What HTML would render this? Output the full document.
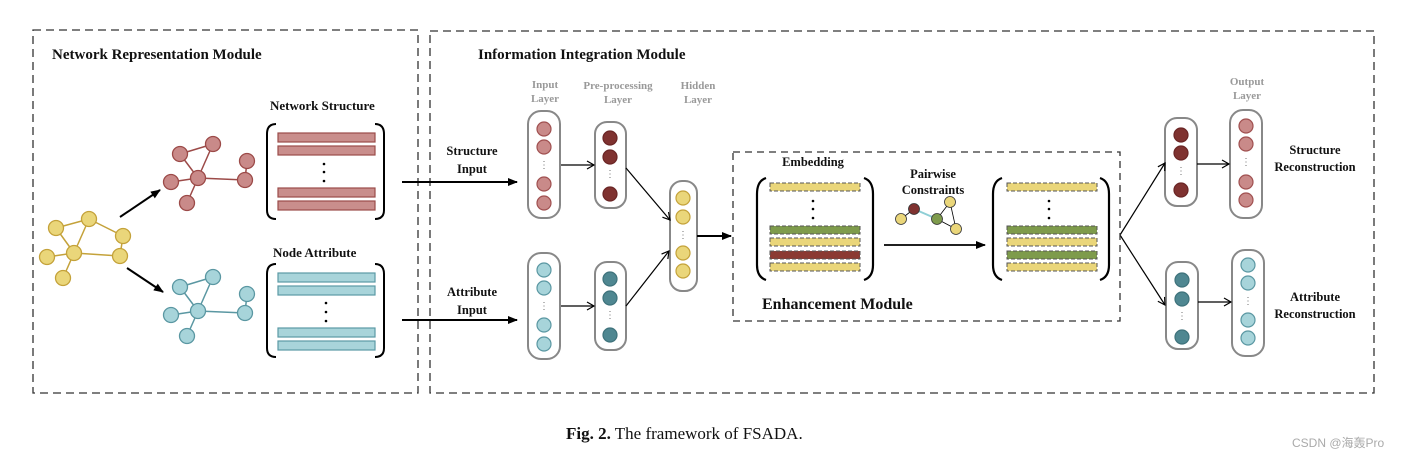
<!DOCTYPE html>
<html><head><meta charset="utf-8"><style>
html,body{margin:0;padding:0;background:#fff;}
svg{display:block;}
.t{font-family:"Liberation Serif",serif;font-weight:bold;fill:#111;}
.g{font-family:"Liberation Serif",serif;font-weight:bold;fill:#999;font-size:11px;}
</style></head><body>
<svg width="1414" height="458" viewBox="0 0 1414 458" xmlns="http://www.w3.org/2000/svg">
<defs>
<marker id="af" markerWidth="10" markerHeight="8" refX="9" refY="4" orient="auto" markerUnits="userSpaceOnUse"><path d="M0,0 L10,4 L0,8 Z" fill="#000"/></marker>
<marker id="ao" markerWidth="10" markerHeight="10" refX="8" refY="5" orient="auto" markerUnits="userSpaceOnUse"><path d="M1,1 L8,5 L1,9" fill="none" stroke="#000" stroke-width="1.2"/></marker>
</defs>
<rect x="33" y="30" width="385" height="363" fill="none" stroke="#333" stroke-width="1.3" stroke-dasharray="8,5"/>
<rect x="430" y="31" width="944" height="362" fill="none" stroke="#333" stroke-width="1.3" stroke-dasharray="8,5"/>
<text class="t" x="52" y="59" font-size="15">Network Representation Module</text>
<text class="t" x="478" y="59" font-size="15">Information Integration Module</text>

<g stroke="#c4a23a" stroke-width="1.5">
<line x1="56" y1="228" x2="89" y2="219"/><line x1="56" y1="228" x2="74" y2="253"/><line x1="89" y1="219" x2="74" y2="253"/><line x1="89" y1="219" x2="123" y2="236"/><line x1="123" y1="236" x2="120" y2="256"/><line x1="74" y1="253" x2="120" y2="256"/><line x1="47" y1="257" x2="74" y2="253"/><line x1="74" y1="253" x2="63" y2="278"/>
</g>
<g fill="#ead67a" stroke="#c4a23a" stroke-width="1.3">
<circle cx="56" cy="228" r="7.5"/><circle cx="89" cy="219" r="7.5"/><circle cx="123" cy="236" r="7.5"/><circle cx="47" cy="257" r="7.5"/><circle cx="74" cy="253" r="7.5"/><circle cx="120" cy="256" r="7.5"/><circle cx="63" cy="278" r="7.5"/>
</g>
<line x1="120" y1="217" x2="160" y2="190" stroke="#000" stroke-width="2" marker-end="url(#af)"/>
<line x1="127" y1="268" x2="163" y2="292" stroke="#000" stroke-width="2" marker-end="url(#af)"/>

<g stroke="#9c4a48" stroke-width="1.5">
<line x1="180" y1="154" x2="213" y2="144"/><line x1="180" y1="154" x2="198" y2="178"/><line x1="213" y1="144" x2="198" y2="178"/><line x1="247" y1="161" x2="245" y2="180"/><line x1="171" y1="182" x2="198" y2="178"/><line x1="198" y1="178" x2="245" y2="180"/><line x1="198" y1="178" x2="187" y2="203"/>
</g>
<g fill="#c98a89" stroke="#9c4a48" stroke-width="1.3">
<circle cx="180" cy="154" r="7.5"/><circle cx="213" cy="144" r="7.5"/><circle cx="247" cy="161" r="7.5"/><circle cx="171" cy="182" r="7.5"/><circle cx="198" cy="178" r="7.5"/><circle cx="245" cy="180" r="7.5"/><circle cx="187" cy="203" r="7.5"/>
</g>
<g transform="translate(0,133)">
<g stroke="#5a97a2" stroke-width="1.5">
<line x1="180" y1="154" x2="213" y2="144"/><line x1="180" y1="154" x2="198" y2="178"/><line x1="213" y1="144" x2="198" y2="178"/><line x1="247" y1="161" x2="245" y2="180"/><line x1="171" y1="182" x2="198" y2="178"/><line x1="198" y1="178" x2="245" y2="180"/><line x1="198" y1="178" x2="187" y2="203"/>
</g>
<g fill="#a7d4da" stroke="#5a97a2" stroke-width="1.3">
<circle cx="180" cy="154" r="7.5"/><circle cx="213" cy="144" r="7.5"/><circle cx="247" cy="161" r="7.5"/><circle cx="171" cy="182" r="7.5"/><circle cx="198" cy="178" r="7.5"/><circle cx="245" cy="180" r="7.5"/><circle cx="187" cy="203" r="7.5"/>
</g></g>

<text class="t" x="270" y="110" font-size="13">Network  Structure</text>
<path d="M276,124 Q267,124 267,134 L267,210 Q267,219 276,219" fill="none" stroke="#000" stroke-width="2"/>
<path d="M375,124 Q384,124 384,134 L384,210 Q384,219 375,219" fill="none" stroke="#000" stroke-width="2"/>
<g fill="#c98e8c" stroke="#9b4c4a" stroke-width="1.2">
<rect x="278" y="133" width="97" height="9"/><rect x="278" y="146" width="97" height="9"/><rect x="278" y="188" width="97" height="9"/><rect x="278" y="201" width="97" height="9"/>
</g>
<g fill="#000"><circle cx="324" cy="164" r="1.3"/><circle cx="324" cy="172" r="1.3"/><circle cx="324" cy="181" r="1.3"/></g>

<text class="t" x="273" y="257" font-size="13">Node Attribute</text>
<path d="M276,264 Q267,264 267,274 L267,348 Q267,357 276,357" fill="none" stroke="#000" stroke-width="2"/>
<path d="M375,264 Q384,264 384,274 L384,348 Q384,357 375,357" fill="none" stroke="#000" stroke-width="2"/>
<g fill="#a8d4da" stroke="#5b9aa5" stroke-width="1.2">
<rect x="278" y="273" width="97" height="9"/><rect x="278" y="286" width="97" height="9"/><rect x="278" y="328" width="97" height="9"/><rect x="278" y="341" width="97" height="9"/>
</g>
<g fill="#000"><circle cx="326" cy="303" r="1.3"/><circle cx="326" cy="312" r="1.3"/><circle cx="326" cy="321" r="1.3"/></g>

<line x1="402" y1="182" x2="517" y2="182" stroke="#000" stroke-width="2" marker-end="url(#af)"/>
<line x1="402" y1="320" x2="517" y2="320" stroke="#000" stroke-width="2" marker-end="url(#af)"/>
<text class="t" x="472" y="155" font-size="12.5" text-anchor="middle">Structure</text>
<text class="t" x="472" y="173" font-size="12.5" text-anchor="middle">Input</text>
<text class="t" x="472" y="296" font-size="12.5" text-anchor="middle">Attribute</text>
<text class="t" x="472" y="314" font-size="12.5" text-anchor="middle">Input</text>

<text class="g" x="545" y="88" text-anchor="middle">Input</text>
<text class="g" x="545" y="102" text-anchor="middle">Layer</text>
<text class="g" x="618" y="89" text-anchor="middle">Pre-processing</text>
<text class="g" x="618" y="103" text-anchor="middle">Layer</text>
<text class="g" x="698" y="89" text-anchor="middle">Hidden</text>
<text class="g" x="698" y="103" text-anchor="middle">Layer</text>
<text class="g" x="1247" y="85" text-anchor="middle">Output</text>
<text class="g" x="1247" y="99" text-anchor="middle">Layer</text>

<g fill="#fff" stroke="#888" stroke-width="2">
<rect x="528" y="111" width="32" height="107" rx="13"/>
<rect x="595" y="122" width="31" height="86" rx="12"/>
<rect x="670" y="181" width="27" height="110" rx="12"/>
<rect x="528" y="253" width="32" height="106" rx="13"/>
<rect x="595" y="262" width="31" height="88" rx="12"/>
<rect x="1165" y="118" width="32" height="88" rx="12"/>
<rect x="1230" y="110" width="32" height="108" rx="13"/>
<rect x="1166" y="262" width="32" height="87" rx="12"/>
<rect x="1232" y="250" width="32" height="106" rx="13"/>
</g>
<g stroke-width="1.2">
<g fill="#c98a89" stroke="#a05050"><circle cx="544" cy="129" r="7"/><circle cx="544" cy="147" r="7"/><circle cx="544" cy="184" r="7"/><circle cx="544" cy="203" r="7"/>
<circle cx="1246" cy="126" r="7"/><circle cx="1246" cy="144" r="7"/><circle cx="1246" cy="182" r="7"/><circle cx="1246" cy="200" r="7"/></g>
<g fill="#7f3230" stroke="#6a2525"><circle cx="610" cy="138" r="7"/><circle cx="610" cy="157" r="7"/><circle cx="610" cy="194" r="7"/>
<circle cx="1181" cy="135" r="7"/><circle cx="1181" cy="153" r="7"/><circle cx="1181" cy="190" r="7"/></g>
<g fill="#ead67a" stroke="#c4a23a"><circle cx="683" cy="198" r="7"/><circle cx="683" cy="217" r="7"/><circle cx="683" cy="253" r="7"/><circle cx="683" cy="271" r="7"/></g>
<g fill="#a7d4da" stroke="#5a97a2"><circle cx="544" cy="270" r="7"/><circle cx="544" cy="288" r="7"/><circle cx="544" cy="325" r="7"/><circle cx="544" cy="344" r="7"/>
<circle cx="1248" cy="265" r="7"/><circle cx="1248" cy="283" r="7"/><circle cx="1248" cy="320" r="7"/><circle cx="1248" cy="338" r="7"/></g>
<g fill="#4f8791" stroke="#3e727b"><circle cx="610" cy="279" r="7"/><circle cx="610" cy="298" r="7"/><circle cx="610" cy="335" r="7"/>
<circle cx="1182" cy="280" r="7"/><circle cx="1182" cy="299" r="7"/><circle cx="1182" cy="337" r="7"/></g>
</g>
<g fill="#777" font-family="Liberation Serif" font-size="10" text-anchor="middle">
<text x="544" y="168">⋮</text><text x="610" y="177">⋮</text><text x="683" y="238">⋮</text><text x="544" y="309">⋮</text><text x="610" y="318">⋮</text>
<text x="1181" y="174">⋮</text><text x="1246" y="165">⋮</text><text x="1182" y="319">⋮</text><text x="1248" y="304">⋮</text>
</g>
<g stroke="#000" stroke-width="1.2" fill="none">
<line x1="561" y1="165" x2="594" y2="165" marker-end="url(#ao)"/>
<line x1="561" y1="306" x2="594" y2="306" marker-end="url(#ao)"/>
<line x1="626" y1="168" x2="670" y2="220" marker-end="url(#ao)"/>
<line x1="626" y1="306" x2="669" y2="251" marker-end="url(#ao)"/>
<line x1="1197" y1="164" x2="1229" y2="164" marker-end="url(#ao)"/>
<line x1="1198" y1="302" x2="1231" y2="302" marker-end="url(#ao)"/>
<line x1="1120" y1="235" x2="1165" y2="163" marker-end="url(#ao)"/>
<line x1="1120" y1="235" x2="1165" y2="305" marker-end="url(#ao)"/>
</g>
<line x1="697" y1="236" x2="731" y2="236" stroke="#000" stroke-width="2" marker-end="url(#af)"/>

<rect x="733" y="152" width="387" height="169" fill="none" stroke="#333" stroke-width="1.3" stroke-dasharray="7,5"/>
<text class="t" x="813" y="166" font-size="12.5" text-anchor="middle">Embedding</text>
<path d="M766,178 Q757,181 757,194 L757,265 Q757,277 766,280" fill="none" stroke="#000" stroke-width="2.2"/>
<path d="M864,178 Q873,181 873,194 L873,265 Q873,277 864,280" fill="none" stroke="#000" stroke-width="2.2"/>
<g stroke="#555" stroke-width="1" stroke-dasharray="4,2">
<rect x="770" y="183" width="90" height="8" fill="#ead67a"/>
<rect x="770" y="226" width="90" height="8" fill="#7e9b4c"/>
<rect x="770" y="238" width="90" height="8" fill="#ead67a"/>
<rect x="770" y="251" width="90" height="8" fill="#8b3a32"/>
<rect x="770" y="263" width="90" height="8" fill="#ead67a"/>
<rect x="1007" y="183" width="90" height="8" fill="#ead67a"/>
<rect x="1007" y="226" width="90" height="8" fill="#7e9b4c"/>
<rect x="1007" y="238" width="90" height="8" fill="#ead67a"/>
<rect x="1007" y="251" width="90" height="8" fill="#7e9b4c"/>
<rect x="1007" y="263" width="90" height="8" fill="#ead67a"/>
</g>
<g fill="#000"><circle cx="813" cy="201" r="1.3"/><circle cx="813" cy="209" r="1.3"/><circle cx="813" cy="218" r="1.3"/>
<circle cx="1049" cy="201" r="1.3"/><circle cx="1049" cy="209" r="1.3"/><circle cx="1049" cy="218" r="1.3"/></g>
<path d="M1002,178 Q993,181 993,194 L993,265 Q993,277 1002,280" fill="none" stroke="#000" stroke-width="2.2"/>
<path d="M1100,178 Q1109,181 1109,194 L1109,265 Q1109,277 1100,280" fill="none" stroke="#000" stroke-width="2.2"/>
<text class="t" x="933" y="178" font-size="12.5" text-anchor="middle">Pairwise</text>
<text class="t" x="933" y="194" font-size="12.5" text-anchor="middle">Constraints</text>
<g stroke="#000" stroke-width="0.8">
<line x1="901" y1="219" x2="914" y2="209"/>
<line x1="914" y1="209" x2="937" y2="219" stroke="#8fcfd6" stroke-width="2"/>
<line x1="937" y1="219" x2="950" y2="202"/><line x1="937" y1="219" x2="956" y2="229"/><line x1="950" y1="202" x2="956" y2="229"/>
</g>
<g stroke="#333" stroke-width="0.8">
<circle cx="901" cy="219" r="5.5" fill="#ead67a"/><circle cx="914" cy="209" r="5.5" fill="#7f3230"/><circle cx="937" cy="219" r="5.5" fill="#7e9b4c"/><circle cx="950" cy="202" r="5.5" fill="#ead67a"/><circle cx="956" cy="229" r="5.5" fill="#ead67a"/>
</g>
<line x1="884" y1="245" x2="985" y2="245" stroke="#000" stroke-width="1.8" marker-end="url(#af)"/>
<text class="t" x="762" y="309" font-size="16">Enhancement Module</text>

<text class="t" x="1315" y="154" font-size="12.5" text-anchor="middle">Structure</text>
<text class="t" x="1315" y="171" font-size="12.5" text-anchor="middle">Reconstruction</text>
<text class="t" x="1315" y="301" font-size="12.5" text-anchor="middle">Attribute</text>
<text class="t" x="1315" y="318" font-size="12.5" text-anchor="middle">Reconstruction</text>

<text x="566" y="439" font-family="Liberation Serif, serif" font-size="17" fill="#111"><tspan font-weight="bold">Fig. 2.</tspan> The framework of FSADA.</text>
<text x="1292" y="447" font-family="Liberation Sans, Noto Sans CJK SC, sans-serif" font-size="12" fill="#aaa">CSDN @海轰Pro</text>
</svg>
</body></html>
